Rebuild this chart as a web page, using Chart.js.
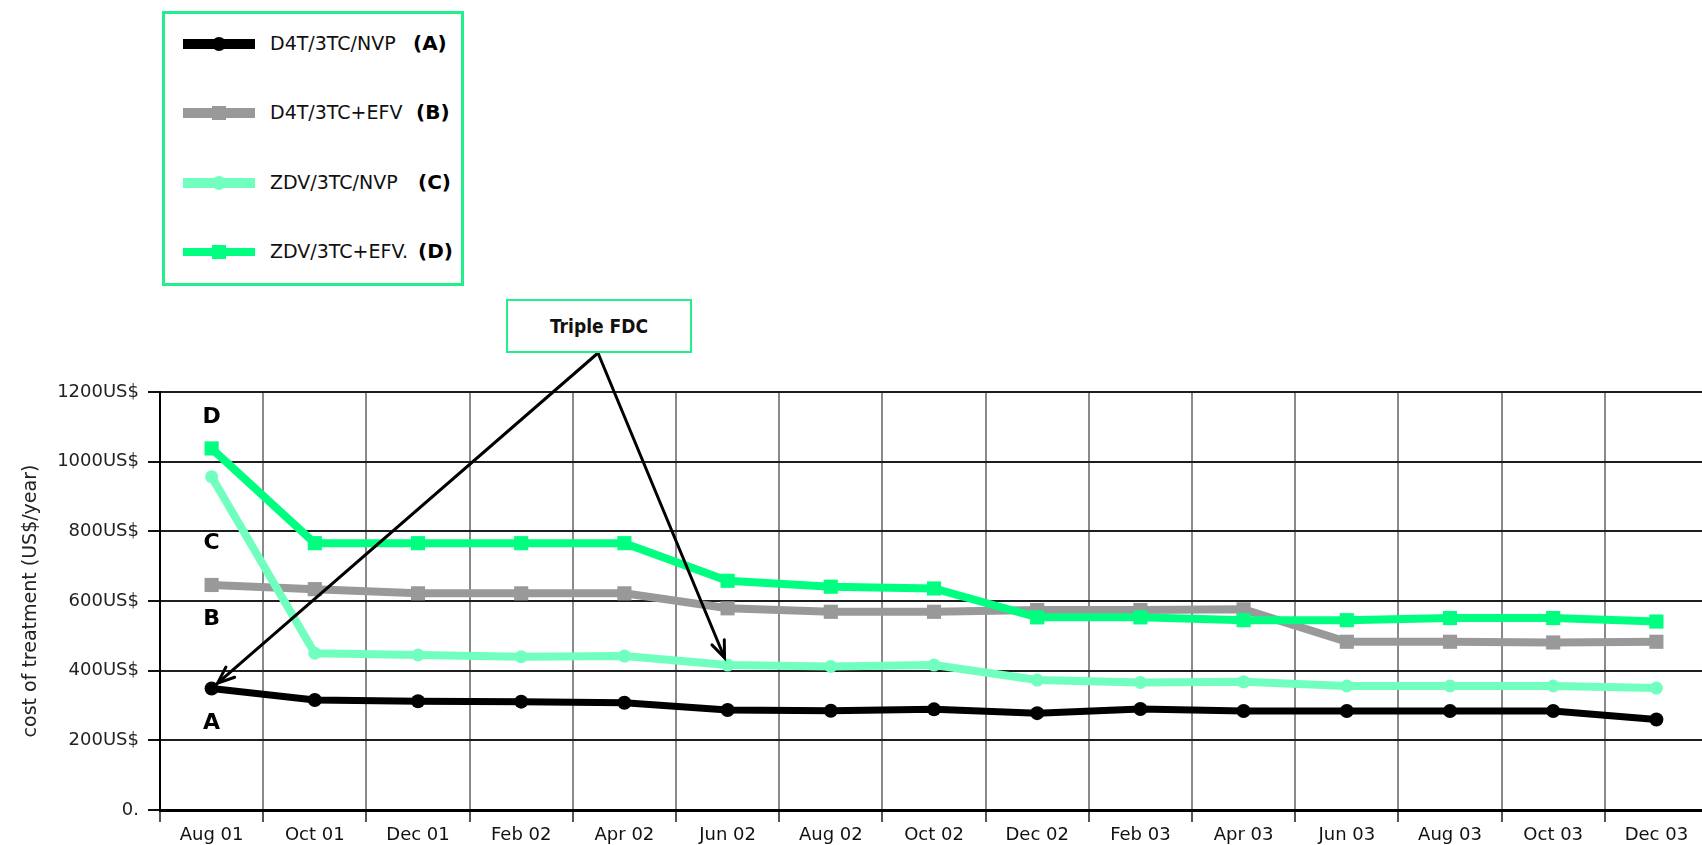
<!DOCTYPE html>
<html>
<head>
<meta charset="utf-8">
<script src="https://cdn.jsdelivr.net/npm/chart.js@4.4.1/dist/chart.umd.min.js"></script>
<style>
  html, body { margin: 0; padding: 0; background: #fff; overflow: hidden; }
  #wrap { position: relative; width: 1702px; height: 845px; overflow: hidden; }
  #chart { position: absolute; left: 0; top: 0; }
  .box { position: absolute; box-sizing: border-box; background: #fff; }
  .abs { position: absolute; }
  .name { font-family: 'DejaVu Sans', sans-serif; font-size: 19px; color: #111; line-height: 22px; white-space: nowrap; }
  .key { font-family: 'DejaVu Sans', sans-serif; font-weight: bold; font-size: 20px; color: #000; line-height: 24px; white-space: nowrap; }
  #fdc { font-family: 'DejaVu Sans Condensed', 'DejaVu Sans', sans-serif; font-weight: bold; font-size: 19px; color: #111; display: flex; align-items: center; justify-content: center; }
</style>
</head>
<body>
<div id="wrap">
  <canvas id="chart" width="1718" height="845"></canvas>
  <div id="legend" class="box" style="left:162px;top:11px;width:302px;height:275px;border:3px solid #22ee8c;"></div>
  <div id="fdc" class="box" style="left:506px;top:299px;width:186px;height:54px;border:2px solid #22ee8c;">Triple FDC</div>
</div>
<script>
// ---- data ----
const categories = ['Aug 01','Oct 01','Dec 01','Feb 02','Apr 02','Jun 02','Aug 02','Oct 02','Dec 02','Feb 03','Apr 03','Jun 03','Aug 03','Oct 03','Dec 03'];
const seriesA = [349, 316, 312, 311, 308, 287, 285, 289, 278, 290, 284, 284, 284, 284, 260];
const seriesB = [646, 634, 622, 622, 622, 579, 569, 569, 574, 574, 576, 483, 483, 481, 483];
const seriesC = [957, 450, 445, 440, 442, 416, 412, 416, 373, 366, 368, 356, 356, 356, 350];
const seriesD = [1038, 766, 766, 766, 766, 658, 641, 636, 553, 553, 545, 545, 551, 551, 541];
const seriesNames = ['D4T/3TC/NVP', 'D4T/3TC+EFV', 'ZDV/3TC/NVP', 'ZDV/3TC+EFV.'];
const seriesKeys = ['A', 'B', 'C', 'D'];
const yTickValues = [0, 200, 400, 600, 800, 1000, 1200];
const yTickLabels = ['0.', '200US$', '400US$', '600US$', '800US$', '1000US$', '1200US$'];
const yTitle = 'cost of treatment (US$/year)';
const letterLabelValues = [250, 548, 767, 1128]; // A, B, C, D annotation heights (value units)
const fdcTargets = [[0, 0], [2, 5]]; // [series index, category index] pointed by "Triple FDC" arrows

// ---- styles ----
const colors = ['#000000', '#999999', '#70ffbe', '#00ff80'];
const pStyles = ['circle', 'rect', 'circle', 'rect'];
const pRadius = [7, 10, 6.5, 10];
const lWidths = [7, 8, 8, 8];
const FONT = "'DejaVu Sans',sans-serif";

const allSeries = [seriesA, seriesB, seriesC, seriesD];

// ---- legend (HTML) ----
const legendRowsY = [44, 113, 183, 252];
const keyX = [413, 416, 418, 418];
const wrap = document.getElementById('wrap');
seriesNames.forEach((name, i) => {
  const cy = legendRowsY[i];
  const bar = document.createElement('div');
  bar.className = 'abs';
  const bh = i === 3 ? 8 : 10;
  bar.style.cssText = `left:183px;top:${cy - bh/2}px;width:72px;height:${bh}px;background:${colors[i]};`;
  wrap.appendChild(bar);
  const mk = document.createElement('div');
  mk.className = 'abs';
  const ms = 14;
  mk.style.cssText = `left:${219 - ms/2}px;top:${cy - ms/2}px;width:${ms}px;height:${ms}px;background:${colors[i]};border-radius:${pStyles[i]==='circle'?'50%':'0'};`;
  wrap.appendChild(mk);
  const t = document.createElement('div');
  t.className = 'abs name';
  t.style.left = '270px'; t.style.top = (cy - 12) + 'px';
  t.textContent = name;
  wrap.appendChild(t);
  const k = document.createElement('div');
  k.className = 'abs key';
  k.style.left = keyX[i] + 'px'; k.style.top = (cy - 13) + 'px';
  k.textContent = '(' + seriesKeys[i] + ')';
  wrap.appendChild(k);
});

// ---- annotation plugin ----
const annotPlugin = {
  id: 'annot',
  afterDatasetsDraw(chart) {
    const {ctx, scales: {x, y}} = chart;
    ctx.save();
    ctx.fillStyle = '#000';
    ctx.font = "bold 22px 'DejaVu Sans', sans-serif";
    ctx.textAlign = 'center';
    ctx.textBaseline = 'middle';
    seriesKeys.forEach((k, i) => {
      ctx.fillText(k, x.getPixelForValue(0), y.getPixelForValue(letterLabelValues[i]));
    });
    // arrows from the Triple FDC box
    const box = document.getElementById('fdc');
    const apex = {x: box.offsetLeft + box.offsetWidth / 2 - 1, y: box.offsetTop + box.offsetHeight};
    ctx.strokeStyle = '#000';
    ctx.lineWidth = 3;
    ctx.lineCap = 'round';
    fdcTargets.forEach(([si, ci]) => {
      const px = x.getPixelForValue(ci), py = y.getPixelForValue(allSeries[si][ci]);
      const ang = Math.atan2(py - apex.y, px - apex.x);
      const tx = px - Math.cos(ang) * 8, ty = py - Math.sin(ang) * 8;
      ctx.beginPath();
      ctx.moveTo(apex.x, apex.y);
      ctx.lineTo(tx, ty);
      ctx.stroke();
      const hl = 18, ha = 0.38;
      ctx.beginPath();
      ctx.moveTo(tx - hl * Math.cos(ang - ha), ty - hl * Math.sin(ang - ha));
      ctx.lineTo(tx, ty);
      ctx.lineTo(tx - hl * Math.cos(ang + ha), ty - hl * Math.sin(ang + ha));
      ctx.stroke();
    });
    ctx.restore();
  }
};

Chart.defaults.font.family = FONT;
Chart.defaults.color = '#111';

new Chart(document.getElementById('chart'), {
  type: 'line',
  data: {
    labels: categories,
    datasets: allSeries.map((s, i) => ({
      label: seriesNames[i],
      data: s,
      borderColor: colors[i],
      backgroundColor: colors[i],
      borderWidth: lWidths[i],
      pointStyle: pStyles[i],
      pointRadius: pRadius[i],
      pointBorderWidth: 0,
      pointBackgroundColor: colors[i],
      tension: 0,
      fill: false,
      order: 3 - i
    }))
  },
  options: {
    responsive: false,
    animation: false,
    events: [],
    layout: { padding: { top: 392, right: 0, left: 0, bottom: 0 } },
    plugins: { legend: { display: false }, tooltip: { enabled: false } },
    scales: {
      x: {
        offset: true,
        grid: { offset: true, color: '#8a8a8a', lineWidth: 2, tickLength: 12, tickColor: '#555', drawOnChartArea: true },
        border: { color: '#000', width: 3 },
        ticks: { padding: 3, font: { size: 18 }, color: '#111', maxRotation: 0, autoSkip: false },
        afterFit(scale) { scale.height = 35; scale.paddingLeft = 0; scale.paddingRight = 0; }
      },
      y: {
        min: 0, max: 1200,
        afterBuildTicks(scale) { scale.ticks = yTickValues.map(v => ({value: v})); },
        grid: { color: '#1e1e1e', lineWidth: 2, tickLength: 12, tickColor: '#111' },
        border: { color: '#000', width: 2 },
        ticks: {
          padding: 9, font: { size: 18 }, color: '#222',
          callback: (v) => { const k = yTickValues.indexOf(v); return k >= 0 ? yTickLabels[k] : ''; }
        },
        title: { display: true, text: yTitle, font: { size: 19 }, color: '#222', padding: { top: 20, bottom: 0 } },
        afterFit(scale) { scale.width = 160; scale.paddingTop = 0; scale.paddingBottom = 0; }
      }
    }
  },
  plugins: [annotPlugin]
});
</script>
</body>
</html>
